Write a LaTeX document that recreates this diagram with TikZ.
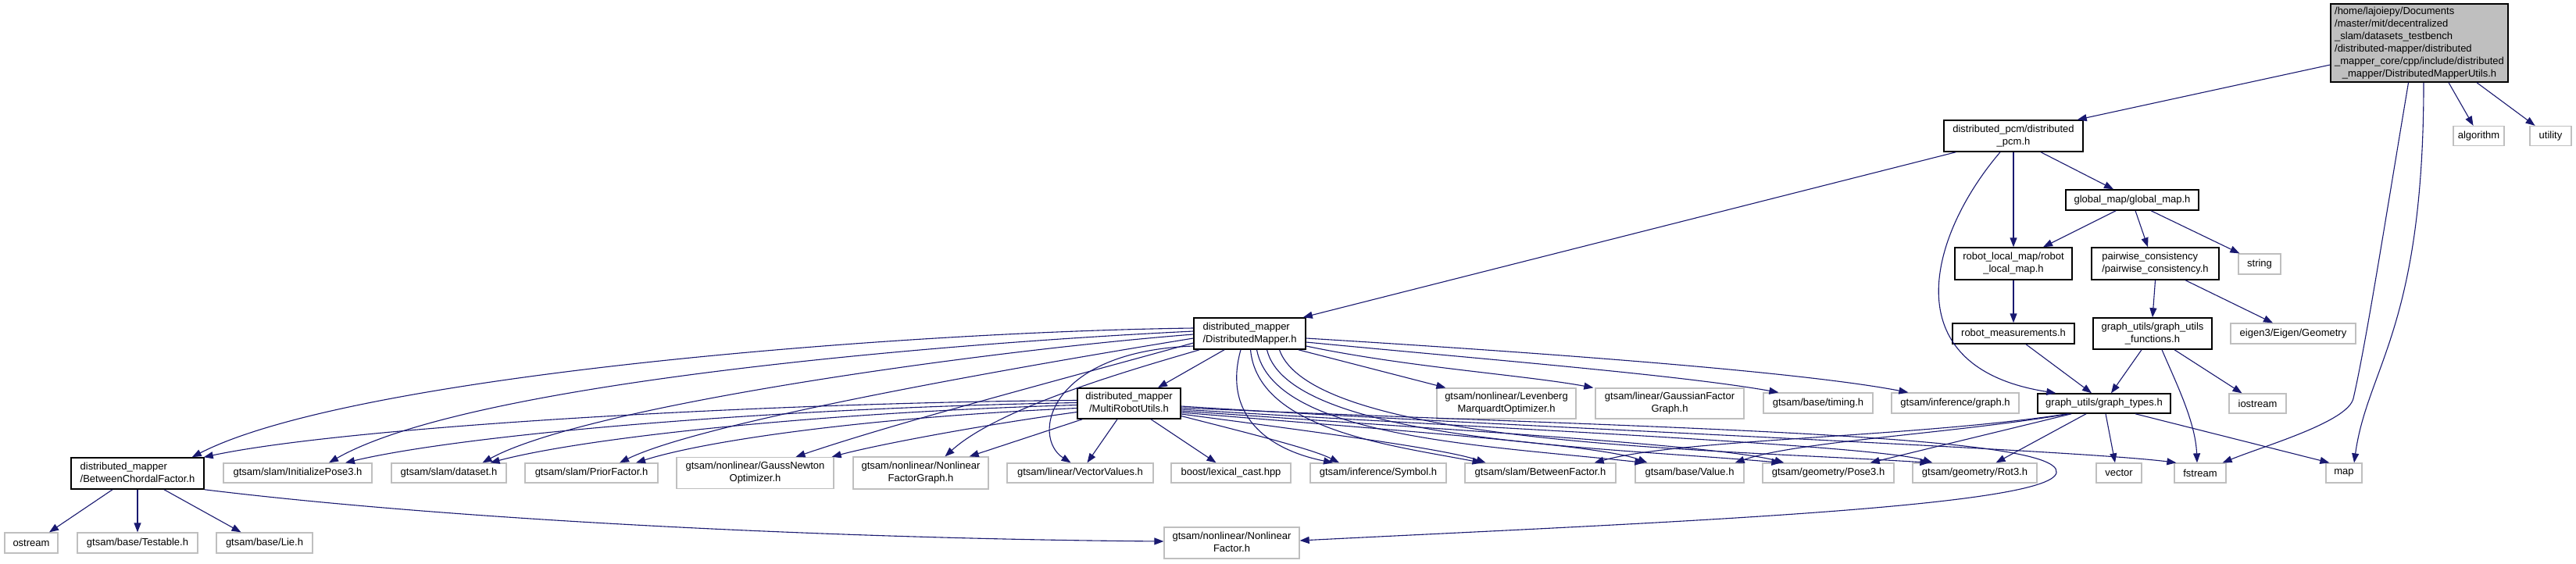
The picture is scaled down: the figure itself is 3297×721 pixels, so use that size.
\documentclass[tikz,border=0pt]{standalone}
\usepackage{fontspec}
\setmainfont{Liberation Sans}
\usetikzlibrary{arrows.meta,calc}
\definecolor{edgec}{HTML}{191970}
\definecolor{grayb}{HTML}{BFBFBF}
\newcommand{\twoline}[2]{\begin{tabular}{@{}l@{}}#1\\\multicolumn{1}{@{}c@{}}{#2}\end{tabular}}
\newcommand{\nd}[6]{\node[#1, minimum width=#4pt, minimum height=#5pt] (#2) at (#3) {#6};}
\tikzset{
  basebox/.style={rectangle, inner sep=0pt, fill=white, font=\fontsize{13}{16}\selectfont, text=black},
  doc/.style={basebox, draw=black, line width=1.5pt},
  ext/.style={basebox, draw=grayb, line width=1.3pt},
  rootn/.style={doc, fill=grayb},
  e/.style={draw=edgec, line width=1.1pt, -{Triangle[length=12pt,width=9pt]}}
}
\begin{document}
\begin{tikzpicture}[x=1pt,y=-1pt]
\fill[white] (0,0) rectangle (3297,721);
\useasboundingbox (0,0) rectangle (3297,721);
% nodes
\nd{rootn}{root}{3096.5,55}{227}{100}{\begin{tabular}{@{}l@{}}/home/lajoiepy/Documents\\/master/mit/decentralized\\\_slam/datasets\_testbench\\/distributed-mapper/distributed\\\_mapper\_core/cpp/include/distributed\\\multicolumn{1}{@{}c@{}}{\_mapper/DistributedMapperUtils.h}\end{tabular}}
\nd{ext}{alg}{3172.5,174}{65}{25}{algorithm}
\nd{ext}{util}{3264.5,174}{53}{25}{utility}
\nd{doc}{pcm}{2577,174}{178}{40}{\twoline{distributed\_pcm/distributed}{\_pcm.h}}
\nd{doc}{gm}{2729,256}{170}{26}{global\_map/global\_map.h}
\nd{doc}{rlm}{2577,337.5}{150}{41}{\twoline{robot\_local\_map/robot}{\_local\_map.h}}
\nd{doc}{pw}{2758.5,337.5}{163}{41}{\twoline{pairwise\_consistency}{/pairwise\_consistency.h}}
\nd{ext}{str}{2892,338}{54}{26}{string}
\nd{doc}{rm}{2577,427}{156}{26}{robot\_measurements.h}
\nd{doc}{guf}{2755,427}{152}{40}{\twoline{graph\_utils/graph\_utils}{\_functions.h}}
\nd{ext}{eig}{2935,427}{160}{26}{eigen3/Eigen/Geometry}
\nd{doc}{dm}{1599.5,427}{143}{40}{\twoline{distributed\_mapper}{/DistributedMapper.h}}
\nd{doc}{mru}{1445,516.5}{132}{39}{\twoline{distributed\_mapper}{/MultiRobotUtils.h}}
\nd{doc}{gt}{2693,516.5}{170}{25}{graph\_utils/graph\_types.h}
\nd{ext}{lm}{1928,516.5}{178}{39}{\twoline{gtsam/nonlinear/Levenberg}{MarquardtOptimizer.h}}
\nd{ext}{gfg}{2137,516.5}{190}{39}{\twoline{gtsam/linear/GaussianFactor}{Graph.h}}
\nd{ext}{tim}{2327,516}{140}{26}{gtsam/base/timing.h}
\nd{ext}{grh}{2502.5,516}{163}{26}{gtsam/inference/graph.h}
\nd{ext}{ios}{2889.5,516.5}{73}{25}{iostream}
\nd{doc}{bcf}{176,606}{170}{40}{\twoline{distributed\_mapper}{/BetweenChordalFactor.h}}
\nd{ext}{ip3}{381,605.5}{190}{25}{gtsam/slam/InitializePose3.h}
\nd{ext}{dset}{574.5,605.5}{147}{25}{gtsam/slam/dataset.h}
\nd{ext}{pf}{757,605.5}{170}{25}{gtsam/slam/PriorFactor.h}
\nd{ext}{gn}{966.5,605.5}{201}{40}{\twoline{gtsam/nonlinear/GaussNewton}{Optimizer.h}}
\nd{ext}{nfg}{1178.5,605.5}{173}{41}{\twoline{gtsam/nonlinear/Nonlinear}{FactorGraph.h}}
\nd{ext}{vv}{1382.5,605.5}{187}{25}{gtsam/linear/VectorValues.h}
\nd{ext}{lex}{1575.5,605.5}{153}{25}{boost/lexical\_cast.hpp}
\nd{ext}{sym}{1764,605.5}{174}{25}{gtsam/inference/Symbol.h}
\nd{ext}{bf}{1971.5,605.5}{193}{25}{gtsam/slam/BetweenFactor.h}
\nd{ext}{val}{2162.5,605.5}{139}{25}{gtsam/base/Value.h}
\nd{ext}{p3}{2340,605.5}{168}{25}{gtsam/geometry/Pose3.h}
\nd{ext}{r3}{2527.5,605.5}{159}{25}{gtsam/geometry/Rot3.h}
\nd{ext}{vec}{2712,605.5}{58}{25}{vector}
\nd{ext}{fst}{2816,605.5}{66}{25}{fstream}
\nd{ext}{mp}{3000,605.5}{46}{25}{map}
\nd{ext}{ost}{40,695}{68}{26}{ostream}
\nd{ext}{tst}{176,695}{154}{26}{gtsam/base/Testable.h}
\nd{ext}{lie}{338.5,695}{123}{26}{gtsam/base/Lie.h}
\nd{ext}{nf}{1576.5,695}{173}{40}{\twoline{gtsam/nonlinear/Nonlinear}{Factor.h}}
% root edges
\draw[e] ($(root.west)+(0,28)$) -- ($(pcm.north east)+(-8,0)$);
\draw[e] ($(root.south)+(-14,0)$) .. controls (3050,300) and (3028,440) .. (3012,510) .. controls (3005,540) and (2900,570) .. ($(fst.north east)+(-5,0)$);
\draw[e] ($(root.south)+(5.5,0)$) .. controls (3102,420) and (3030,470) .. ($(mp.north)+(13,0)$);
\draw[e] ($(root.south)+(37.5,0)$) -- ($(alg.north)+(-7,0)$);
\draw[e] ($(root.south)+(73.5,0)$) -- ($(util.north)+(-20,0)$);
% pcm edges
\draw[e] ($(pcm.south west)+(16,0)$) -- ($(dm.north east)+(-4,0)$);
\draw[e] ($(pcm.south)+(-17,0)$) .. controls (2470,300) and (2420,470) .. ($(gt.north west)+(24,0)$);
\draw[e] (pcm.south) -- (rlm.north);
\draw[e] ($(pcm.south)+(35,0)$) -- ($(gm.north)+(-24,0)$);
\draw[e] ($(gm.south)+(-21,0)$) -- ($(rlm.north)+(38,0)$);
\draw[e] ($(gm.south)+(4,0)$) -- ($(pw.north)+(-9.5,0)$);
\draw[e] ($(gm.south)+(24,0)$) -- ($(str.north west)+(2,0)$);
\draw[e] (rlm.south) -- (rm.north);
\draw[e] (pw.south) -- (guf.north);
\draw[e] ($(pw.south)+(38.5,0)$) -- ($(eig.north)+(-26,0)$);
\draw[e] ($(rm.south)+(16,0)$) -- ($(gt.north)+(-16,0)$);
\draw[e] ($(guf.south)+(-14,0)$) -- ($(gt.north)+(9,0)$);
\draw[e] ($(guf.south)+(12,0)$) .. controls (2785,490) and (2810,540) .. ($(fst.north)+(-4,0)$);
\draw[e] ($(guf.south)+(28,0)$) -- ($(ios.north)+(-20,0)$);
% graph_types edges
\draw[e] ($(gt.south west)+(39,0)$) .. controls (2450,560) and (2150,562) .. ($(bf.north east)+(-28,0)$);
\draw[e] ($(gt.south west)+(41,0)$) .. controls (2500,555) and (2300,565) .. ($(val.north east)+(-12,0)$);
\draw[e] ($(gt.south west)+(44,0)$) -- ($(p3.north east)+(-31,0)$);
\draw[e] ($(gt.south)+(-23,0)$) -- ($(r3.north)+(27,0)$);
\draw[e] ($(gt.south)+(2,0)$) -- ($(vec.north)+(-5,0)$);
\draw[e] ($(gt.south)+(40,0)$) -- ($(mp.north west)+(5,0)$);
% DistributedMapper edges
\draw[e] ($(dm.south)+(-32.5,0)$) -- ($(mru.north)+(37,0)$);
\draw[e] ($(dm.west)+(0,-7)$) .. controls (1150,425) and (450,480) .. ($(bcf.north east)+(-16,0)$);
\draw[e] ($(dm.west)+(0,-3)$) .. controls (1200,440) and (600,490) .. ($(ip3.north)+(40,0)$);
\draw[e] ($(dm.west)+(0,1)$) .. controls (1250,450) and (750,520) .. ($(dset.north)+(43,0)$);
\draw[e] ($(dm.west)+(0,6)$) .. controls (1300,470) and (900,540) .. ($(pf.north)+(36,0)$);
\draw[e] ($(dm.west)+(0,12)$) .. controls (1380,480) and (1150,540) .. ($(gn.north)+(52,0)$);
\draw[e] ($(dm.south west)+(8,0)$) .. controls (1460,470) and (1280,520) .. ($(nfg.north)+(31,0)$);
\draw[e] ($(dm.west)+(0,16)$) .. controls (1340,450) and (1320,560) .. ($(vv.north)+(-12,0)$);
\draw[e] ($(dm.south)+(-11.5,0)$) .. controls (1565,530) and (1620,575) .. ($(sym.north)+(-58,0)$);
\draw[e] ($(dm.south)+(1,0)$) .. controls (1610,550) and (1780,570) .. ($(bf.north)+(-75,0)$);
\draw[e] ($(dm.south)+(9,0)$) .. controls (1630,560) and (1900,570) .. ($(val.north west)+(12,0)$);
\draw[e] ($(dm.south)+(22,0)$) .. controls (1650,565) and (2050,572) .. ($(p3.north west)+(24,0)$);
\draw[e] ($(dm.south)+(38,0)$) .. controls (1680,570) and (2200,575) .. ($(r3.north west)+(22,0)$);
\draw[e] ($(dm.south east)+(-10,0)$) -- ($(lm.north west)+(12,0)$);
\draw[e] ($(dm.east)+(0,16)$) .. controls (1800,470) and (1950,480) .. ($(gfg.north west)+(-2,0)$);
\draw[e] ($(dm.east)+(0,11)$) .. controls (1900,460) and (2150,480) .. ($(tim.north west)+(20,0)$);
\draw[e] ($(dm.east)+(0,6)$) .. controls (1950,450) and (2300,475) .. ($(grh.north west)+(22,0)$);
% MultiRobotUtils edges
\draw[e] ($(mru.west)+(0,-4)$) .. controls (1000,515) and (450,545) .. ($(bcf.north east)+(-1,0)$);
\draw[e] ($(mru.west)+(0,-1)$) .. controls (1000,522) and (600,555) .. ($(ip3.north)+(61,0)$);
\draw[e] ($(mru.west)+(0,2)$) .. controls (1050,528) and (750,560) .. ($(dset.north)+(53,0)$);
\draw[e] ($(mru.west)+(0,6)$) .. controls (1100,535) and (900,565) .. ($(pf.north)+(57,0)$);
\draw[e] ($(mru.west)+(0,11)$) .. controls (1250,545) and (1120,570) .. ($(gn.north east)+(-3,0)$);
\draw[e] ($(mru.south west)+(7,0)$) -- ($(nfg.north east)+(-25,0)$);
\draw[e] ($(mru.south)+(-15,0)$) -- ($(vv.north)+(9,0)$);
\draw[e] ($(mru.south)+(28,0)$) -- ($(lex.north)+(-19,0)$);
\draw[e] ($(mru.east)+(0,16)$) .. controls (1600,555) and (1680,575) .. ($(sym.north)+(-50,0)$);
\draw[e] ($(mru.east)+(0,13.5)$) .. controls (1700,555) and (1850,575) .. ($(bf.north)+(-70,0)$);
\draw[e] ($(mru.east)+(0,11.5)$) .. controls (1800,552) and (2050,570) .. ($(val.north west)+(16,0)$);
\draw[e] ($(mru.east)+(0,9.5)$) .. controls (1850,550) and (2200,570) .. ($(p3.north west)+(28,0)$);
\draw[e] ($(mru.east)+(0,7.5)$) .. controls (1900,548) and (2400,570) .. ($(r3.north west)+(26,0)$);
\draw[e] ($(mru.east)+(0,3.5)$) .. controls (1900,545) and (2650,575) .. ($(fst.north west)+(3,0)$);
\draw[e] ($(mru.east)+(0,5.5)$) .. controls (2100,548) and (2640,555) .. (2632,605) .. controls (2625,650) and (2100,670) .. ($(nf.east)+(0,-3)$);
% BetweenChordalFactor edges
\draw[e] ($(bcf.south)+(-32,0)$) -- ($(ost.north)+(23,0)$);
\draw[e] (bcf.south) -- (tst.north);
\draw[e] ($(bcf.south)+(34,0)$) -- ($(lie.north)+(-30,0)$);
\draw[e] (bcf.south east) .. controls (600,668) and (1100,690) .. ($(nf.west)+(0,-2)$);
\end{tikzpicture}
\end{document}
